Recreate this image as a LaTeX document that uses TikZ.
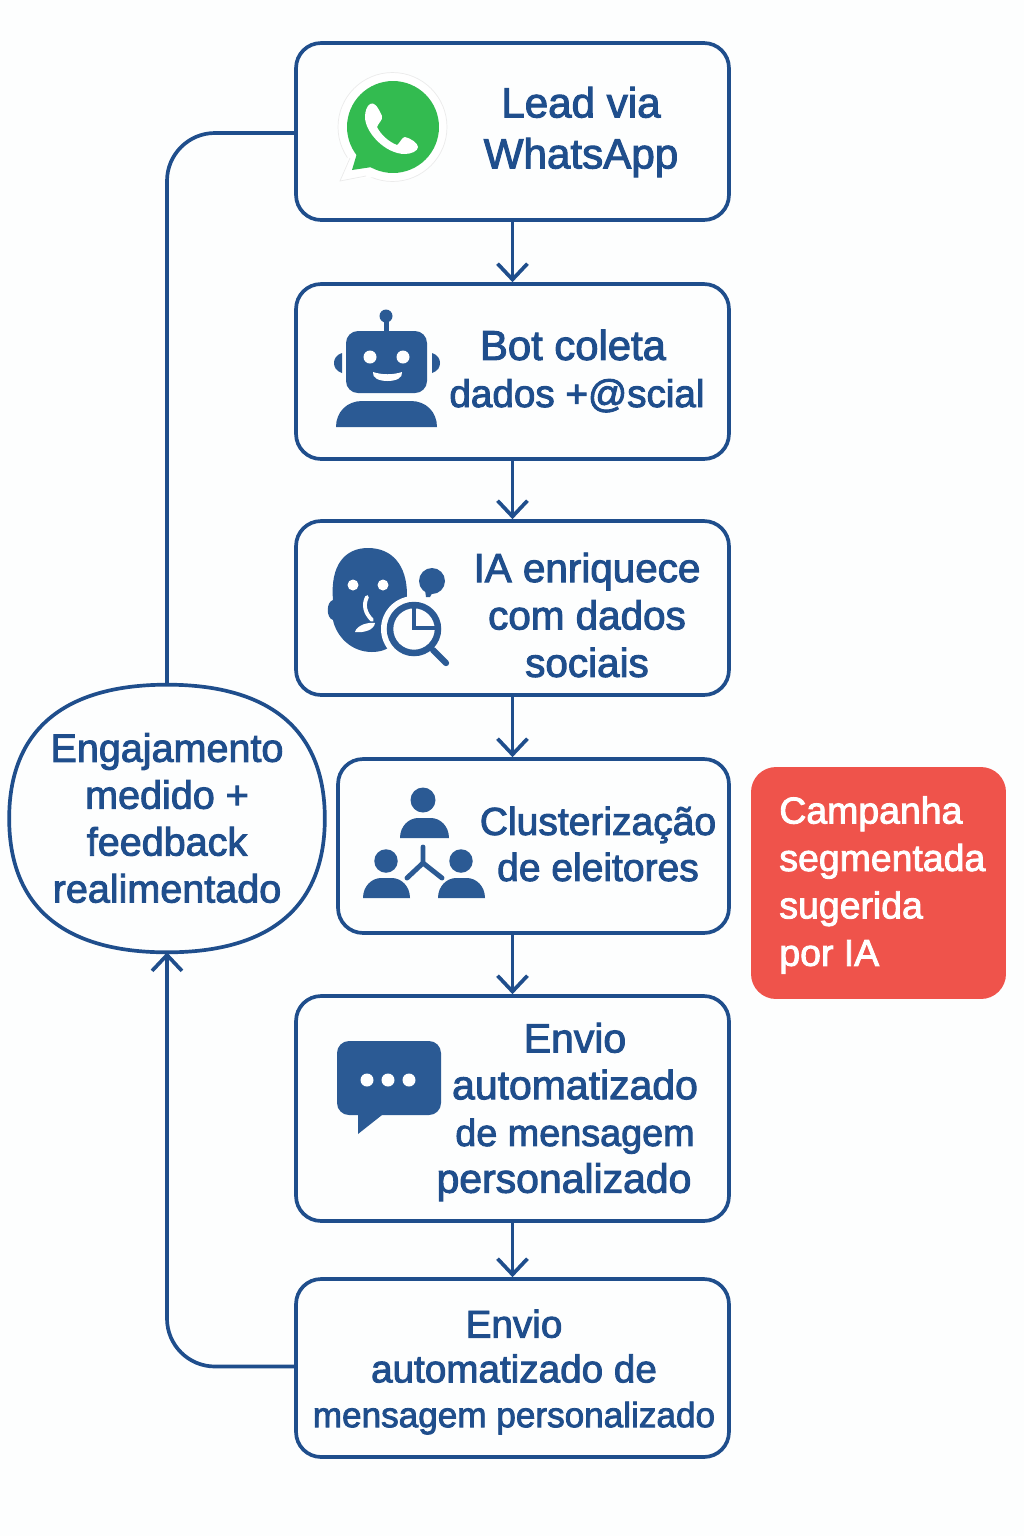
\documentclass[tikz,border=0pt]{standalone}
\usepackage{fontspec}
\setmainfont{Liberation Sans}[FakeBold=2.4]
\definecolor{vtblue}{RGB}{31,78,140}
\definecolor{vticon}{RGB}{43,90,148}
\definecolor{vtred}{RGB}{239,83,75}
\definecolor{vtgreen}{RGB}{51,187,80}
\definecolor{vtpaper}{RGB}{253,254,254}
\usetikzlibrary{arrows.meta,positioning,shapes.geometric,calc}

\begin{document}
\begin{tikzpicture}[x=0.02cm,y=-0.02cm,
  sbox/.style={rectangle, rounded corners=0.5cm, draw=vtblue, line width=2.1pt,
               fill=vtpaper, minimum width=8.66cm},
  stxt/.style={font=\fontsize{23}{27}\selectfont, align=center, text=vtblue, inner sep=0pt},
  rbox/.style={rectangle, rounded corners=0.5cm, fill=vtred, minimum width=5.1cm,
               minimum height=4.64cm},
  rtxt/.style={font=\fontsize{21.3}{27}\selectfont, align=left, text=white, inner sep=0pt, anchor=west},
  eshape/.style={ellipse, minimum width=6.3cm, minimum height=5.34cm, inner sep=0pt},
  farr/.style={-{Straight Barb[length=9pt,width=17pt]}, draw=vtblue, line width=2.1pt},
  bline/.style={draw=vtblue, line width=2.1pt, rounded corners=0.96cm}
]
\useasboundingbox[fill=vtpaper] (0,0) rectangle (1024,1536);

% Step boxes
\node[sbox, minimum height=3.54cm] (lead)  at (512.5,131.5) {};
\node[sbox, minimum height=3.5cm]  (bot)   at (512.5,371.5) {};
\node[sbox, minimum height=3.48cm] (ia)    at (512.5,608) {};
\node[sbox, minimum height=3.48cm, minimum width=7.82cm] (clust) at (533.5,846) {};
\node[sbox, minimum height=4.5cm]  (envio) at (512.5,1108.5) {};
\node[sbox, minimum height=3.56cm] (final) at (512.5,1368) {};

% Step labels
\node[stxt, font=\fontsize{24}{29}\selectfont] (leadt) at (581,132) {Lead via\\WhatsApp};
\node[stxt, font=\fontsize{22}{26.8}\selectfont] (bott) at (577,371) {{\fontsize{23.8}{26.8}\selectfont Bot coleta}\hspace*{0.16cm}\\dados +@scial};
\node[stxt] (iat) at (587,615) {IA enriquece\\com dados\\sociais};
\node[stxt, font=\fontsize{22.2}{26.2}\selectfont] (clustt) at (598,844) {Clusterização\\de eleitores};
\node[stxt, font=\fontsize{23.3}{26.6}\selectfont] (enviot) at (575,1112) {Envio\\automatizado\\{\fontsize{21.5}{26.6}\selectfont de mensagem}\\personalizado\hspace*{0.44cm}};
\node[stxt, font=\fontsize{22}{25.5}\selectfont] (finalt) at (514,1372) {Envio\\automatizado de\\{\fontsize{20}{25.5}\selectfont mensagem personalizado}};

% Feedback shape
\node[eshape] (eng) at (167,818.5) {};
\draw[draw=vtblue, line width=2.1pt, fill=vtpaper] (eng.north)
  .. controls +(95,0) and +(0,-95) .. (eng.east)
  .. controls +(0,95) and +(95,0) .. (eng.south)
  .. controls +(-95,0) and +(0,95) .. (eng.west)
  .. controls +(0,-95) and +(-95,0) .. (eng.north);
\node[stxt, font=\fontsize{22.5}{26.7}\selectfont] (engt) at (167,818) {Engajamento\\medido +\\feedback\\realimentado};

% Red box
\node[rbox] (camp) at (878.5,883) {};
\node[rtxt] (campt) at (779,885) {Campanha\\segmentada\\sugerida\\por IA};

% Arrows
\draw[farr] (lead) -- (bot);
\draw[farr] (bot) -- (ia);
\draw[farr] (ia.south) -- (ia.south |- clust.north);
\draw[farr] (envio.north |- clust.south) -- (envio.north);
\draw[farr] (envio) -- (final);
\draw[bline] (eng.north) |- ([yshift=-0.03cm]lead.west);
\draw[bline, -{Straight Barb[length=9pt,width=17pt]}] ([yshift=0.03cm]final.west) -| (eng.south);

% WhatsApp icon
\fill[white, draw=black!8, line width=0.4pt] (392.5,127) circle (1.09cm);
\fill[white] (340,181) -- (350,150) -- (375,177) -- cycle;
\draw[black!8, line width=0.4pt] (350,158) -- (340,181) -- (366,176);
\fill[vtgreen] (393,127) circle (0.92cm);
\fill[vtgreen] (352,170) -- (358,150) -- (372,167) -- cycle;
\fill[white] (370,104) .. controls (374,102) and (377,105) .. (382,116)
  .. controls (383,120) and (379,122) .. (377,127)
  .. controls (381,135) and (389,142) .. (397,145)
  .. controls (400,143) and (402,137) .. (405,137)
  .. controls (410,138) and (418,143) .. (418,147)
  .. controls (418,151) and (411,154) .. (405,154)
  .. controls (385,154) and (365,132) .. (365,117)
  .. controls (365,111) and (367,106) .. (370,104) -- cycle;

% Robot icon
\fill[vticon] (386,316) circle (0.13cm);
\fill[vticon] (383.5,318) rectangle (388.5,335);
\fill[vticon, rounded corners=0.24cm] (346,331) rectangle (427,393);
\fill[vticon] (342,353) .. controls (336,355) and (334,359) .. (334,363)
  .. controls (334,367) and (336,371) .. (342,373) -- cycle;
\fill[vticon] (432,353) .. controls (438,355) and (440,359) .. (440,363)
  .. controls (440,367) and (438,371) .. (432,373) -- cycle;
\fill[white] (370,357) circle (0.13cm) (403,357) circle (0.13cm);
\fill[white] (373,372) .. controls (382,375) and (393,375) .. (402,372)
  .. controls (403,378) and (396,381) .. (387.5,381)
  .. controls (379,381) and (372,378) .. (373,372) -- cycle;
\fill[vticon] (336,427) .. controls (336,412) and (347,401) .. (362,401) -- (411,401)
  .. controls (426,401) and (437,412) .. (437,427) -- cycle;

% Face icon
\fill[vticon] (333,600) .. controls (330,565) and (345,548) .. (368,548)
  .. controls (392,548) and (407,565) .. (407,595)
  .. controls (407,625) and (400,652) .. (372,652)
  .. controls (350,652) and (336,635) .. (333,620)
  .. controls (326,618) and (326,602) .. (333,600) -- cycle;
\fill[white] (353,585) circle (0.11cm) (383,585) circle (0.11cm);
\draw[white, line width=2.2pt, line cap=round] (367,597) .. controls (363,605) and (365,613) .. (372,620);
\fill[white] (355,632) .. controls (357,625) and (368,622) .. (375,623)
  .. controls (374,630) and (364,633) .. (355,632) -- cycle;
\fill[vticon] (432,581) circle (0.26cm);
\fill[vticon] (425,590) -- (426,597) -- (430,597) -- (434,590) -- cycle;
\fill[vtpaper] (414,629) circle (0.66cm);
\draw[vticon, line width=3.7pt] (414,629) circle (0.48cm);
\draw[vticon, line width=2.6pt] (414,608) -- (414,628) -- (436,628);
\draw[vticon, line width=3.6pt, line cap=round] (433,650) -- (446,663);

% Cluster icon
\fill[vticon] (423,800) circle (0.25cm);
\fill[vticon] (400,838) .. controls (400,826) and (409,818) .. (418,818) -- (431,818)
  .. controls (440,818) and (449,826) .. (449,838) -- cycle;
\fill[vticon] (386,861) circle (0.235cm) (461,861) circle (0.235cm);
\fill[vticon] (363,898) .. controls (363,886) and (372,878) .. (381,878) -- (392,878)
  .. controls (401,878) and (410,886) .. (410,898) -- cycle;
\fill[vticon] (438,898) .. controls (438,886) and (447,878) .. (456,878) -- (467,878)
  .. controls (476,878) and (485,886) .. (485,898) -- cycle;
\draw[vticon, line width=2.8pt, line cap=round] (423,847) -- (423,863) -- (407,878);
\draw[vticon, line width=2.8pt, line cap=round] (423,863) -- (442,878);

% Message icon
\fill[vticon, rounded corners=0.24cm] (337,1041) rectangle (441,1115);
\fill[vticon] (358,1110) -- (358,1134) -- (382,1115) -- (382,1110) -- cycle;
\foreach \dotx in {367,388,409}
  \fill[white] (\dotx,1080) circle (0.13cm);
\end{tikzpicture}
\end{document}
